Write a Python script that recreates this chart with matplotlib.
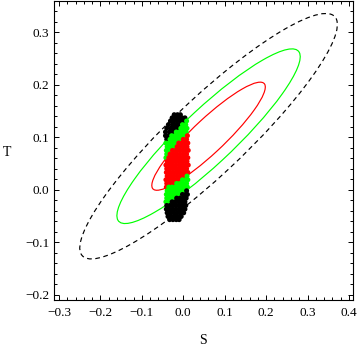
import matplotlib
matplotlib.use("Agg")
import matplotlib.pyplot as plt
import matplotlib.ticker as mticker
from matplotlib.patches import Ellipse
import numpy as np

# S,T fit: centre, widths, correlation
center_S, center_T = 0.061, 0.102
sigma_S, sigma_T = 0.0904, 0.068
rho = 0.91
# chi^2 (2 dof) for 68.27%, 95.45%... contours
chi2_levels = [2.296, 5.991, 11.83]
contour_colors = ["#ff0000", "#00ff00", "#000000"]
contour_styles = ["-", "-", (0, (4, 3))]

# model scan points (rows of constant T)
cloud_T = [0.143, 0.137, 0.131, 0.124, 0.117, 0.110, 0.103, 0.096, 0.089, 0.082,
           0.075, 0.068, 0.061, 0.054, 0.047, 0.040, 0.033, 0.026, 0.019, 0.012,
           0.005, -0.002, -0.009, -0.016, -0.023, -0.030, -0.037, -0.044, -0.051, -0.057]
cloud_S = [
    [-0.022, -0.014, -0.007],
    [-0.027, -0.019, -0.011, -0.003, 0.004],
    [-0.031, -0.023, -0.015, -0.007, 0.001, 0.008],
    [-0.036, -0.026, -0.018, -0.010, -0.002, 0.006],
    [-0.040, -0.030, -0.022, -0.014, -0.006, 0.002, 0.009],
    [-0.043, -0.033, -0.025, -0.017, -0.009, -0.001, 0.007],
    [-0.043, -0.036, -0.028, -0.020, -0.012, -0.004, 0.004, 0.010],
    [-0.040, -0.032, -0.024, -0.016, -0.008, 0.000, 0.008],
    [-0.042, -0.035, -0.027, -0.019, -0.011, -0.003, 0.005, 0.011],
    [-0.039, -0.031, -0.023, -0.015, -0.007, 0.001, 0.009],
    [-0.041, -0.034, -0.026, -0.018, -0.010, -0.002, 0.006, 0.012],
    [-0.040, -0.032, -0.024, -0.016, -0.008, 0.000, 0.008],
    [-0.042, -0.035, -0.027, -0.019, -0.011, -0.003, 0.005, 0.011],
    [-0.039, -0.031, -0.023, -0.015, -0.007, 0.001, 0.009],
    [-0.042, -0.034, -0.026, -0.018, -0.010, -0.002, 0.006, 0.012],
    [-0.040, -0.032, -0.024, -0.016, -0.008, 0.000, 0.008],
    [-0.041, -0.035, -0.027, -0.019, -0.011, -0.003, 0.005, 0.011],
    [-0.039, -0.031, -0.023, -0.015, -0.007, 0.001, 0.009],
    [-0.042, -0.034, -0.026, -0.018, -0.010, -0.002, 0.006, 0.011],
    [-0.040, -0.032, -0.024, -0.016, -0.008, 0.000, 0.008],
    [-0.041, -0.035, -0.027, -0.019, -0.011, -0.003, 0.005, 0.010],
    [-0.039, -0.031, -0.023, -0.015, -0.007, 0.001, 0.008],
    [-0.041, -0.034, -0.026, -0.018, -0.010, -0.002, 0.006, 0.010],
    [-0.040, -0.032, -0.024, -0.016, -0.008, 0.000, 0.007],
    [-0.042, -0.035, -0.027, -0.019, -0.011, -0.003, 0.004],
    [-0.040, -0.032, -0.024, -0.016, -0.008, 0.000, 0.006],
    [-0.041, -0.034, -0.026, -0.018, -0.010, -0.002, 0.004],
    [-0.039, -0.031, -0.023, -0.015, -0.007, 0.001],
    [-0.037, -0.029, -0.021, -0.013, -0.005],
    [-0.033, -0.025, -0.017, -0.010],
]

x_ticks = [-0.3, -0.2, -0.1, 0.0, 0.1, 0.2, 0.3, 0.4]
y_ticks = [-0.2, -0.1, 0.0, 0.1, 0.2, 0.3]

plt.rcParams["font.family"] = ["Liberation Serif", "DejaVu Serif"]

fig = plt.figure(figsize=(3.6, 3.48), dpi=100)
ax = fig.add_axes([0.15, 0.138, 0.8306, 0.859])

cov = np.array([[sigma_S**2, rho * sigma_S * sigma_T],
                [rho * sigma_S * sigma_T, sigma_T**2]])
evals, evecs = np.linalg.eigh(cov)
angle = np.degrees(np.arctan2(evecs[1, 1], evecs[0, 1]))
for lev, col, ls in zip(chi2_levels, contour_colors, contour_styles):
    k = np.sqrt(lev)
    ax.add_patch(Ellipse((center_S, center_T),
                         width=2 * k * np.sqrt(evals[1]),
                         height=2 * k * np.sqrt(evals[0]),
                         angle=angle, fill=False, edgecolor=col,
                         linestyle=ls, linewidth=0.85, zorder=2))

# colour the points by which contour they fall in
pts_S = np.array([s for row in cloud_S for s in row])
pts_T = np.array([t for t, row in zip(cloud_T, cloud_S) for _ in row])
d = np.stack([pts_S - center_S, pts_T - center_T])
d2 = np.einsum("in,ij,jn->n", d, np.linalg.inv(cov), d)
pt_col = np.where(d2 < chi2_levels[0], "#ff0000",
                  np.where(d2 < chi2_levels[1], "#00ff00", "#000000"))
ax.scatter(pts_S, pts_T, s=13, c=pt_col, linewidths=0, zorder=3)

ax.set_xlim(-0.3121, 0.4097)
ax.set_ylim(-0.2101, 0.3596)
ax.set_xticks(x_ticks)
ax.set_yticks(y_ticks)
ax.xaxis.set_minor_locator(mticker.MultipleLocator(0.02))
ax.yaxis.set_minor_locator(mticker.MultipleLocator(0.02))
fmt = mticker.FuncFormatter(lambda v, p: f"{v:.1f}".replace("-", "\u2212"))
ax.xaxis.set_major_formatter(fmt)
ax.yaxis.set_major_formatter(fmt)
ax.tick_params(which="both", direction="in", top=True, right=True,
               labelsize=9.5, width=0.7, colors="black")
ax.tick_params(which="major", length=3.5)
ax.tick_params(which="minor", length=2)
ax.tick_params(axis="x", pad=5)
ax.tick_params(axis="y", pad=3.5)
for sp in ax.spines.values():
    sp.set_linewidth(0.8)

fig.text(203 / 360, 1 - 340 / 348, "S", ha="center", va="center", fontsize=10)
fig.text(7 / 360, 1 - 152 / 348, "T", ha="center", va="center", fontsize=10)

fig.savefig("out.png", dpi=100)
